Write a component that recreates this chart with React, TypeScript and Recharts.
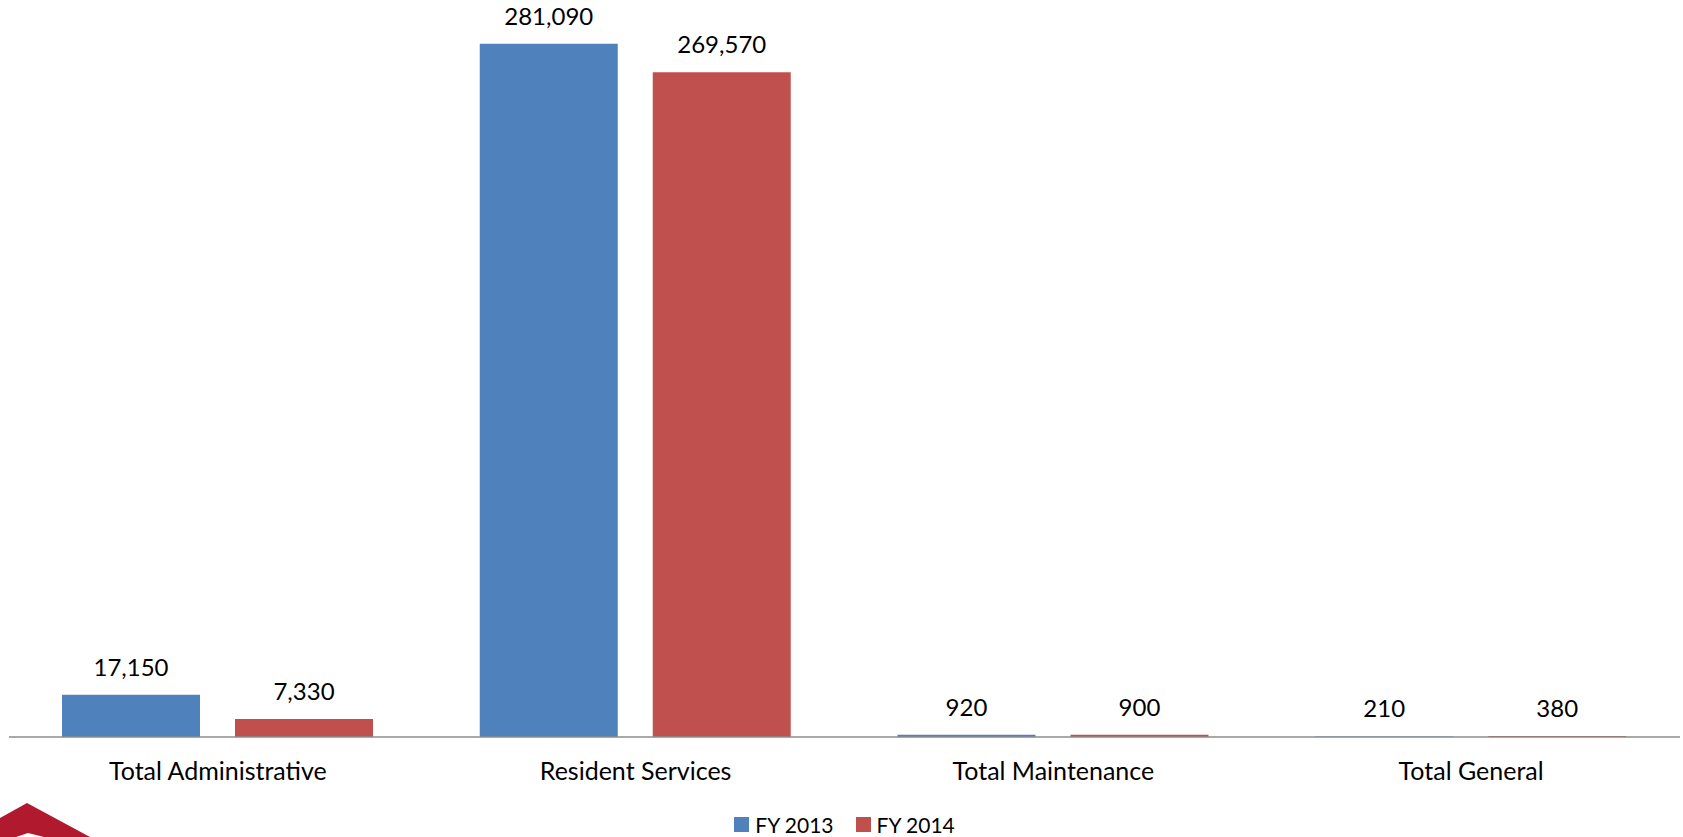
import { BarChart, Bar, XAxis, YAxis, Legend, LabelList } from "recharts";

const categories = ["Total Administrative", "Resident Services", "Total Maintenance", "Total General"];
const fy2013 = [17150, 281090, 920, 210];
const fy2014 = [7330, 269570, 900, 380];

const series = [
  { key: "fy2013", name: "FY 2013", color: "#4F81BD" },
  { key: "fy2014", name: "FY 2014", color: "#C0504D" },
];

const chartData = categories.map((name, i) => ({
  name,
  fy2013: fy2013[i],
  fy2014: fy2014[i],
}));

const FONT = "Lato, 'Open Sans', sans-serif";

const formatValue = (v: any) => Number(v).toLocaleString("en-US");

// legend drawn as plain squares + text, like the Excel original
const LegendContent = () => (
  <div
    style={{
      height: 26,
      display: "flex",
      justifyContent: "center",
      alignItems: "center",
      fontFamily: FONT,
      fontSize: 21,
      color: "#000",
    }}
  >
    {series.map((s) => (
      <div key={s.key} style={{ display: "flex", alignItems: "center", margin: "0 11px" }}>
        <span style={{ width: 15, height: 15, background: s.color, marginRight: 6, display: "inline-block" }} />
        <span>{s.name}</span>
      </div>
    ))}
  </div>
);

const Logo = () => (
  <svg width={100} height={40} style={{ position: "absolute", left: 0, top: 797 }}>
    <polygon points="0,21 27,6 90,40 44,40 28,36 16,40 0,40" fill="#B0192E" />
  </svg>
);

export default function App() {
  return (
    <div style={{ position: "relative", width: 1683, height: 837, background: "#fff", overflow: "hidden" }}>
      <style>{`body{margin:0}`}</style>
      <BarChart
        width={1683}
        height={837}
        data={chartData}
        margin={{ top: 7, right: 3, left: 9, bottom: 0 }}
        barGap={35}
        barSize={138}
      >
        <XAxis
          dataKey="name"
          height={74}
          tickSize={0}
          tickMargin={25}
          axisLine={{ stroke: "#8c8c8c", strokeWidth: 1.5 }}
          tick={{ fill: "#000", fontSize: 25, fontFamily: FONT }}
        />
        <YAxis hide domain={[0, 296000]} />
        <Legend verticalAlign="bottom" content={<LegendContent />} />
        {series.map((s) => (
          <Bar key={s.key} dataKey={s.key} name={s.name} fill={s.color} isAnimationActive={false}>
            <LabelList
              dataKey={s.key}
              position="top"
              offset={19}
              formatter={formatValue}
              style={{ fill: "#000", fontSize: 24, fontFamily: FONT }}
            />
          </Bar>
        ))}
      </BarChart>
      <Logo />
    </div>
  );
}
